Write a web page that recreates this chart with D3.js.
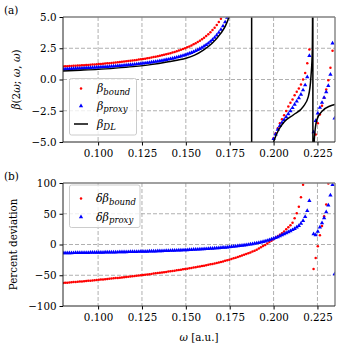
<!DOCTYPE html>
<html><head><meta charset="utf-8">
<script src="https://cdn.jsdelivr.net/npm/d3@7"></script>
<style>body{margin:0;background:#fff}svg{display:block}text{font-family:"DejaVu Serif",serif;fill:#000}</style>
</head><body><svg id="c" width="350" height="348"></svg>
<script>
// ---------------- data ----------------
const omegaStart = 0.08, omegaStep = 0.0012, nOmega = 130;
const omega = d3.range(nOmega).map(i => omegaStart + omegaStep * i);
const xTicks = [0.1, 0.125, 0.15, 0.175, 0.2, 0.225];
const yTicksTop = [-5, -2.5, 0, 2.5, 5];
const yTicksBot = [-100, -50, 0, 50, 100];
const N = null;
const betaBound = [
1.05,1.06,1.07,1.08,1.09,1.10,1.11,1.12,1.13,1.14,
1.15,1.16,1.17,1.19,1.20,1.21,1.23,1.24,1.25,1.27,
1.28,1.30,1.31,1.33,1.35,1.37,1.38,1.40,1.42,1.44,
1.46,1.48,1.50,1.52,1.55,1.57,1.60,1.62,1.65,1.67,
1.70,1.73,1.76,1.80,1.83,1.86,1.90,1.94,1.98,2.02,
2.06,2.11,2.16,2.21,2.26,2.32,2.38,2.44,2.51,2.58,
2.65,2.73,2.82,2.91,3.01,3.11,3.23,3.35,3.48,3.63,
3.78,3.96,4.15,4.36,4.60,4.86,
N,N,N,N,N,N,N,N,N,N,N,N,N,N,N,N,N,N,N,N,N,N,N,N,
-4.7,-4.3,-3.9,-3.5,-3.18,-2.85,-2.52,-2.15,-1.86,-1.6,-1.25,-0.98,-0.72,-0.4,0.0,0.52,1.3,2.4,
N,N,
-4.4,-3.5,-2.8,-2.1,-1.45,-0.8,-0.05,0.95,2.3,
N];
const betaProxy = [
0.82,0.83,0.84,0.85,0.86,0.87,0.88,0.89,0.89,0.90,
0.91,0.92,0.93,0.94,0.95,0.96,0.97,0.98,0.99,1.00,
1.01,1.02,1.03,1.05,1.06,1.07,1.09,1.10,1.11,1.13,
1.14,1.16,1.18,1.19,1.21,1.23,1.25,1.27,1.29,1.31,
1.33,1.35,1.38,1.40,1.43,1.45,1.48,1.51,1.54,1.58,
1.61,1.65,1.68,1.72,1.77,1.81,1.86,1.91,1.96,2.02,
2.08,2.14,2.21,2.29,2.37,2.46,2.55,2.66,2.77,2.89,
3.03,3.18,3.35,3.54,3.75,3.99,4.27,4.59,4.96,
N,N,N,N,N,N,N,N,N,N,N,N,N,N,N,N,N,N,N,N,N,
-4.75,-4.38,-4.0,-3.7,-3.45,-3.22,-3.0,-2.76,-2.52,-2.27,-2.0,-1.75,-1.48,-1.2,-0.85,-0.45,0.2,1.9,
N,
-4.2,-3.3,-2.7,-2.25,-1.85,-1.45,-1.0,-0.5,0.4,2.9,-3.1];
const omegaDL = [0.08,0.09,0.10,0.11,0.12,0.13,0.14,0.15,0.155,0.16,0.165,0.17,0.1725,0.1746,0.178,0.182,0.185,0.1874,
  0.1876,0.19,0.195,0.2005,0.203,0.206,0.2112,0.2169,0.2198,0.2213,0.2221,0.2222,0.2223,
  0.2225,0.2232,0.2246,0.2274,0.2322,0.235];
const betaDL = [0.68,0.74,0.81,0.91,1.03,1.19,1.42,1.7,1.95,2.35,2.9,3.71,4.27,5.0,6.75,11.6,25.4,300,
  -300,-25.2,-8.35,-4.8,-4.0,-3.4,-2.84,-2.17,-1.37,0.23,2.4,4.5,50,
  -50,-4.84,-3.24,-2.57,-2.12,-2.0];
const devBound = [
-62.60,-62.31,-62.02,-61.74,-61.45,-61.16,-60.87,-60.58,-60.30,-59.99,
-59.68,-59.37,-59.06,-58.74,-58.41,-58.09,-57.77,-57.44,-57.10,-56.77,
-56.43,-56.09,-55.73,-55.37,-55.01,-54.65,-54.28,-53.91,-53.53,-53.16,
-52.77,-52.37,-51.98,-51.58,-51.18,-50.77,-50.36,-49.95,-49.53,-49.10,
-48.67,-48.24,-47.80,-47.34,-46.89,-46.43,-45.97,-45.49,-45.01,-44.53,
-44.05,-43.53,-43.01,-42.50,-41.98,-41.45,-40.91,-40.37,-39.83,-39.26,
-38.67,-38.08,-37.49,-36.89,-36.26,-35.64,-35.02,-34.37,-33.67,-32.98,
-32.28,-31.57,-30.80,-30.03,-29.26,-28.50,-27.54,-26.58,-25.62,-24.66,
-23.60,-22.52,-21.44,-20.36,-19.20,-18.00,-16.80,-15.60,-14.28,-12.84,
-11.40,-9.96,-8.36,-6.44,-4.52,-2.60,-0.62,1.66,3.94,6.22,
8.50,10.90,13.30,15.70,18.10,21.30,24.70,28.00,31.40,35.50,
42.80,50.80,61.50,77.00,97.00,
N,N,N,N,
-40,-22,-3,15,30,46,65,99,
N,N,N];
const devProxy = [
-13.83,-13.78,-13.74,-13.69,-13.64,-13.60,-13.55,-13.50,-13.45,-13.40,
-13.34,-13.29,-13.24,-13.18,-13.13,-13.07,-13.01,-12.95,-12.89,-12.83,
-12.77,-12.70,-12.64,-12.57,-12.50,-12.44,-12.37,-12.29,-12.22,-12.14,
-12.07,-11.99,-11.91,-11.83,-11.74,-11.66,-11.57,-11.48,-11.39,-11.30,
-11.20,-11.10,-11.00,-10.90,-10.79,-10.68,-10.57,-10.46,-10.34,-10.22,
-10.10,-9.97,-9.84,-9.70,-9.56,-9.42,-9.28,-9.12,-8.97,-8.81,
-8.64,-8.47,-8.29,-8.11,-7.92,-7.73,-7.53,-7.32,-7.10,-6.88,
-6.64,-6.40,-6.15,-5.89,-5.62,-5.33,-5.04,-4.73,-4.41,-4.07,
-3.72,-3.35,-2.97,-2.56,-2.14,-1.69,-1.22,-0.72,-0.20,0.36,
0.95,1.58,2.24,2.95,3.71,4.52,5.40,6.33,7.34,8.44,
9.63,10.92,12.34,13.90,15.61,
17.0,18.6,20.3,22.0,23.8,25.6,28.0,30.5,34.0,38.5,45.0,55.0,71.0,
N,
17,15.5,21,28,35,43,53,64,80,97,-48];

// ---------------- drawing ----------------
const svg = d3.select("#c");
const L = 63, R = 335;
const x = d3.scaleLinear().domain([0.08, 0.235]).range([L, R]);
const panels = [
  {id:"a", top:17, bot:142, dom:[-5,5], ticks:yTicksTop, fmt:d3.format(".1f"),
   series:[{v:betaBound,kind:"dot"},{v:betaProxy,kind:"tri"}], line:true},
  {id:"b", top:183, bot:306, dom:[-100,100], ticks:yTicksBot, fmt:d3.format("d"),
   series:[{v:devBound,kind:"dot"},{v:devProxy,kind:"tri"}], line:false}
];
const tri = d3.symbol().type(d3.symbolTriangle).size(8);

panels.forEach(p => {
  const y = d3.scaleLinear().domain(p.dom).range([p.bot, p.top]);
  const g = svg.append("g");
  svg.append("clipPath").attr("id","clip"+p.id).append("rect")
    .attr("x",L).attr("y",p.top).attr("width",R-L).attr("height",p.bot-p.top);
  g.selectAll(".gx").data(xTicks).join("line")
    .attr("x1",d=>x(d)).attr("x2",d=>x(d)).attr("y1",p.top).attr("y2",p.bot)
    .attr("stroke","#b0b0b0").attr("stroke-width",1).attr("stroke-dasharray","4,2");
  g.selectAll(".gy").data(p.ticks.slice(1,-1)).join("line")
    .attr("x1",L).attr("x2",R).attr("y1",d=>y(d)).attr("y2",d=>y(d))
    .attr("stroke","#b0b0b0").attr("stroke-width",1).attr("stroke-dasharray","4,2");
  const data = g.append("g").attr("clip-path","url(#clip"+p.id+")");
  p.series.forEach(s => {
    const pts = omega.map((w,i)=>({w, v:s.v[i]})).filter(d=>d.v!==null);
    if (s.kind==="dot") {
      data.append("g").selectAll("circle").data(pts).join("circle")
        .attr("cx",d=>x(d.w)).attr("cy",d=>y(d.v)).attr("r",1.25).attr("fill","#ff0000");
    } else {
      data.append("g").selectAll("path").data(pts).join("path")
        .attr("d",tri).attr("transform",d=>`translate(${x(d.w)},${y(d.v)})`).attr("fill","#0000ff");
    }
  });
  if (p.line) {
    const ln = d3.line().x(d=>x(d[0])).y(d=>y(d[1])).curve(d3.curveMonotoneX);
    data.append("path").datum(omegaDL.map((w,i)=>[w,betaDL[i]]))
      .attr("d",ln).attr("fill","none").attr("stroke","#000").attr("stroke-width",1.5);
  }
  const ax = g.append("g").attr("transform",`translate(0,${p.bot})`)
    .call(d3.axisBottom(x).tickValues(xTicks).tickFormat(d3.format(".3f")).tickSize(3.5).tickPadding(4));
  const ay = g.append("g").attr("transform",`translate(${L},0)`)
    .call(d3.axisLeft(y).tickValues(p.ticks).tickFormat(p.fmt).tickSize(3.5).tickPadding(3));
  [ax,ay].forEach(a=>{a.select(".domain").remove();
    a.selectAll("text").style("font-family","DejaVu Serif").style("font-size","10.3px").attr("fill","#000");
    a.selectAll("line").attr("stroke","#000");});
  g.append("line").attr("x1",L).attr("x2",R).attr("y1",p.top).attr("y2",p.top).attr("stroke","#808080").attr("stroke-width",1.4);
  g.append("line").attr("x1",R).attr("x2",R).attr("y1",p.top).attr("y2",p.bot).attr("stroke","#808080").attr("stroke-width",1.4);
  g.append("line").attr("x1",L).attr("x2",L).attr("y1",p.top).attr("y2",p.bot).attr("stroke","#222").attr("stroke-width",1);
  g.append("line").attr("x1",L).attr("x2",R).attr("y1",p.bot).attr("y2",p.bot).attr("stroke","#222").attr("stroke-width",1);
  svg.append("text").attr("x",4).attr("y",p.top-3).style("font-size","10.5px").text("("+p.id+")");
});

const yl1 = svg.append("text").attr("transform","translate(20,79.5) rotate(-90)").attr("text-anchor","middle").style("font-size","10.5px");
yl1.append("tspan").style("font-style","italic").text("β");
yl1.append("tspan").text("(2");
yl1.append("tspan").style("font-style","italic").text("ω");
yl1.append("tspan").text("; ");
yl1.append("tspan").style("font-style","italic").text("ω");
yl1.append("tspan").text(", ");
yl1.append("tspan").style("font-style","italic").text("ω");
yl1.append("tspan").text(")");
svg.append("text").attr("transform","translate(17,244.5) rotate(-90)").attr("text-anchor","middle")
  .style("font-size","10.3px").text("Percent deviation");
const xl = svg.append("text").attr("x",199).attr("y",341).attr("text-anchor","middle").style("font-size","10.3px");
xl.append("tspan").style("font-style","italic").text("ω");
xl.append("tspan").text(" [a.u.]");

function legend(x0, y0, w, h, items) {
  const g = svg.append("g");
  g.append("rect").attr("x",x0).attr("y",y0).attr("width",w).attr("height",h).attr("rx",2)
    .attr("fill","#fff").attr("fill-opacity",0.8).attr("stroke","#cccccc").attr("stroke-width",1);
  items.forEach(it => {
    if (it.kind==="dot") g.append("circle").attr("cx",81).attr("cy",it.y).attr("r",1.25).attr("fill","#ff0000");
    else if (it.kind==="tri") g.append("path").attr("d",tri).attr("transform",`translate(81,${it.y})`).attr("fill","#0000ff");
    else g.append("line").attr("x1",74).attr("x2",88).attr("y1",it.y).attr("y2",it.y).attr("stroke","#000").attr("stroke-width",1.5);
    const t = g.append("text").attr("x",it.tx).attr("y",it.y+3.5).style("font-size","11px").style("font-style","italic");
    t.append("tspan").text(it.main);
    t.append("tspan").attr("dy",2.5).style("font-size","8.5px").text(it.sub);
  });
}
legend(69.5, 78.5, 67, 56.5, [
  {kind:"dot", y:88.5, tx:97, main:"β", sub:"bound"},
  {kind:"tri", y:106, tx:97, main:"β", sub:"proxy"},
  {kind:"line", y:124, tx:97, main:"β", sub:"DL"}]);
legend(69.5, 185, 70.5, 42.5, [
  {kind:"dot", y:198.5, tx:96, main:"δβ", sub:"bound"},
  {kind:"tri", y:217, tx:96, main:"δβ", sub:"proxy"}]);
</script></body></html>
